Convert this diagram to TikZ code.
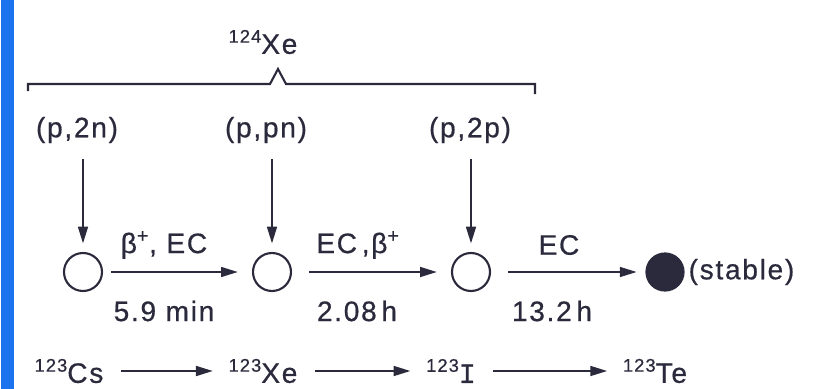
\documentclass[tikz,border=0pt]{standalone}
\usepackage{fontspec}
\setmainfont[LetterSpace=6, FakeBold=0.6]{Liberation Sans}
\newfontfamily\barfont[FakeBold=0.6]{Liberation Mono}
\usetikzlibrary{arrows.meta}
\definecolor{ink}{HTML}{2A2A3C}
\definecolor{slideBlue}{HTML}{1B74EE}
\newcommand{\nuc}[2]{\raisebox{0.75ex}{\fontsize{13}{13}\selectfont #1}#2}
\tikzset{
  lbl/.style={font=\fontsize{20}{23}\selectfont, text=ink, inner sep=1pt},
  nucl/.style={circle, draw=ink, line width=1.5pt, inner sep=0pt, minimum size=0.95cm},
  stablenucl/.style={circle, fill=ink, inner sep=0pt, minimum size=0.98cm},
  decay/.style={-{Triangle[length=12pt,width=7pt]}, line width=1.5pt, draw=ink},
}

\begin{document}
\begin{tikzpicture}[x=0.025cm, y=-0.025cm]
\useasboundingbox (0,0) rectangle (825,389);
\fill[slideBlue] (1,0) rectangle (14,389);

% ---------- target and brace ----------
\node[lbl] (target) at (263,42) {\nuc{124}{Xe}};
\draw[ink, line width=1.5pt] (28,91) -- (28,84) -- (270,84) -- (278,69)
  -- (286,84) -- (535,84) -- (535,94);

% ---------- reactions ----------
\node[lbl] (p2n) at (77,130) {(p,2n)};
\node[lbl] (ppn) at (266,130) {(p,pn)};
\node[lbl] (p2p) at (470,130) {(p,2p)};

% ---------- nuclides ----------
\node[nucl] (cs) at (83,272) {};
\node[nucl] (xe) at (272,272) {};
\node[nucl] (io) at (471,272) {};
\node[stablenucl] (te) at (665,272) {};
\node[lbl, anchor=west] (stable) at (687,272) {(stable)};

% ---------- production arrows ----------
\draw[decay, shorten <=10pt, shorten >=6pt] (cs.north |- p2n.south) -- (cs.north);
\draw[decay, shorten <=10pt, shorten >=6pt] (xe.north |- ppn.south) -- (xe.north);
\draw[decay, shorten <=10pt, shorten >=6pt] (io.north |- p2p.south) -- (io.north);

% ---------- decay arrows ----------
\draw[decay, shorten <=6pt, shorten >=10pt] (cs) -- (xe);
\draw[decay, shorten <=12pt, shorten >=10pt] (xe) -- (io);
\draw[decay, shorten <=12pt, shorten >=6pt] (io) -- (te);

\node[lbl] (mode1) at (164,245) {β\textsuperscript{+}, EC};
\node[lbl] (mode2) at (358,245) {EC\,,β\textsuperscript{+}};
\node[lbl] (mode3) at (559,245) {EC};
\node[lbl] (half1) at (164,311) {5.9 min};
\node[lbl] (half2) at (357,311) {2.08\,h};
\node[lbl] (half3) at (552,311) {13.2\,h};

% ---------- chain ----------
\node[lbl] (chcs) at (69,371) {\nuc{123}{Cs}};
\node[lbl] (chxe) at (263,371) {\nuc{123}{Xe}};
\node[lbl] (chi) at (451,371) {\nuc{123}{\barfont I}};
\node[lbl] (chte) at (655,371) {\nuc{123}{Te}};

\draw[decay, shorten <=11pt, shorten >=10pt] (chcs) -- (chxe);
\draw[decay, shorten <=11pt, shorten >=10pt] (chxe) -- (chi);
\draw[decay, shorten <=11pt, shorten >=10pt] (chi) -- (chte);

\end{tikzpicture}
\end{document}
